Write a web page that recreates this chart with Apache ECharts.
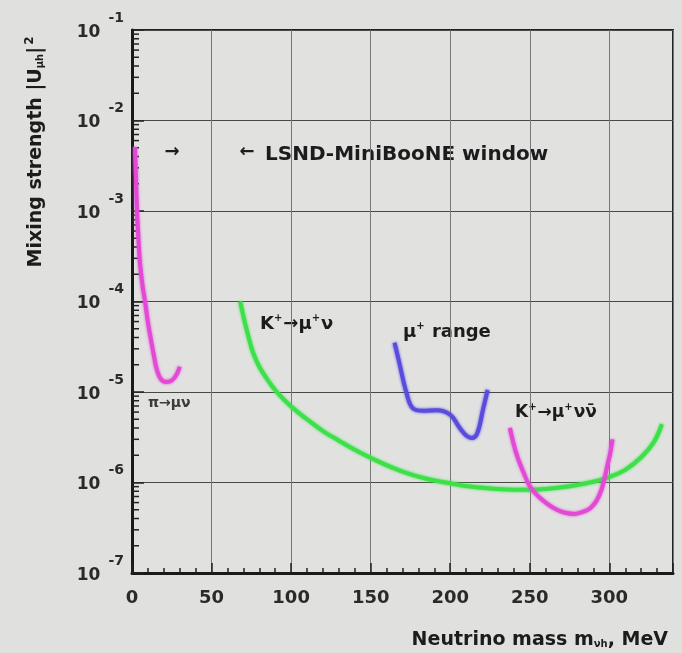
<!DOCTYPE html>
<html>
<head>
<meta charset="utf-8">
<script src="https://cdn.jsdelivr.net/npm/echarts@6/dist/echarts.min.js"></script>
<style>
  html, body { margin: 0; padding: 0; background: #e0e1df; }
  #chart-container { width: 682px; height: 653px; }
</style>
</head>
<body>
<div id="chart-container"></div>
<script>
// Curve data (mass in MeV, mixing |U|^2)
const pionMass = [1.9, 2.5, 3.1, 4.1, 5, 6.6, 8.2, 10, 12, 13.8, 15.7, 18.2, 21.4, 24.5, 27.6, 30];
const pionMix = [5.1e-3, 2.2e-3, 1.02e-3, 4.8e-4, 2.7e-4, 1.5e-4, 1.0e-4, 5.9e-5, 3.7e-5, 2.5e-5, 1.74e-5, 1.38e-5, 1.29e-5, 1.32e-5, 1.51e-5, 1.9e-5];

const kmunuMass = [68, 70.5, 73, 76, 80, 85, 91, 100, 110, 120, 130, 140, 155, 170, 185, 200, 215, 230, 245, 260, 275, 290, 300, 310, 320, 328, 333];
const kmunuMix = [1.0e-4, 6.3e-5, 4.2e-5, 2.75e-5, 1.9e-5, 1.38e-5, 1.0e-5, 6.9e-6, 5.0e-6, 3.7e-6, 2.9e-6, 2.3e-6, 1.7e-6, 1.32e-6, 1.1e-6,
  9.8e-7, 8.9e-7, 8.5e-7, 8.3e-7, 8.5e-7, 9.1e-7, 1.02e-6, 1.15e-6, 1.38e-6, 1.9e-6, 2.8e-6, 4.4e-6];

const rangeMass = [165, 168, 172.5, 176.5, 183, 191.5, 200, 206, 210, 213.5, 217, 220.5, 223.5];
const rangeMix = [3.5e-5, 2.1e-5, 9.8e-6, 6.6e-6, 6.2e-6, 6.3e-6, 5.6e-6, 4.0e-6, 3.3e-6, 3.1e-6, 3.5e-6, 6.3e-6, 1.05e-5];

const knunuMass = [237.5, 241.5, 246, 250, 255, 261, 267, 273, 278, 283, 288, 292, 295, 297, 299, 300.5, 302];
const knunuMix = [4.0e-6, 2.1e-6, 1.3e-6, 9.1e-7, 7.1e-7, 5.8e-7, 5.0e-7, 4.6e-7, 4.5e-7, 4.7e-7, 5.2e-7, 6.3e-7, 8.3e-7, 1.12e-6, 1.6e-6, 2.1e-6, 3.0e-6];

// Tick labels
const xTickLabels = ['0', '50', '100', '150', '200', '250', '300'];
const yTickExponents = ['-7', '-6', '-5', '-4', '-3', '-2', '-1'];

const zip = (xs, ys) => xs.map((x, i) => [x, ys[i]]);

// log-spaced minor ticks on the y axis (2..9 x 10^k)
const yMinorTicks = [];
for (let e = -7; e < -1; e++) {
  for (let m = 2; m <= 9; m++) yMinorTicks.push([0, m * Math.pow(10, e)]);
}

const chartContainer = document.getElementById('chart-container');
const myChart = echarts.init(chartContainer);

const FONT = 'DejaVu Sans';
const INK = '#1c1c1c';

function curve(name, data, color) {
  return {
    name: name,
    type: 'line',
    data: data,
    smooth: 0.4,
    showSymbol: false,
    symbol: 'none',
    lineStyle: { color: color, width: 4, shadowColor: color, shadowBlur: 3 },
    z: 5
  };
}

const option = {
  backgroundColor: '#e0e1df',
  animation: false,
  grid: {
    left: 132, right: 9, top: 30, bottom: 80,
    show: true,
    borderColor: '#222',
    borderWidth: 2,
    backgroundColor: '#e1e2e0'
  },
  xAxis: {
    type: 'value',
    min: 0,
    max: 340,
    interval: 50,
    axisLine: { show: true, onZero: false, lineStyle: { color: '#1a1a1a', width: 3 } },
    axisTick: { show: true, inside: true, length: 10, lineStyle: { color: '#222', width: 1.5 } },
    minorTick: { show: true, splitNumber: 5, length: 5, lineStyle: { color: '#222', width: 1.5 } },
    splitLine: { show: true, lineStyle: { color: '#777', width: 1 } },
    axisLabel: {
      margin: 16,
      showMaxLabel: false,
      fontFamily: FONT,
      fontWeight: 'bold',
      fontSize: 18,
      color: '#2a2a2a',
      formatter: function (v) {
        const s = String(v);
        return xTickLabels.indexOf(s) >= 0 ? s : '';
      }
    }
  },
  yAxis: {
    type: 'log',
    logBase: 10,
    min: 1e-7,
    max: 1e-1,
    interval: 1,
    axisLine: { show: true, onZero: false, lineStyle: { color: '#1a1a1a', width: 3 } },
    axisTick: { show: true, inside: true, length: 12, lineStyle: { color: '#222', width: 1.5 } },
    splitLine: { show: true, lineStyle: { color: '#484848', width: 1.2 } },
    axisLabel: {
      margin: 8,
      padding: [0, 0, 8, 0],
      formatter: function (v, i) {
        return '{b|10}{s|' + yTickExponents[i] + '}';
      },
      rich: {
        b: { fontFamily: FONT, fontWeight: 'bold', fontSize: 17, color: '#2a2a2a', verticalAlign: 'bottom' },
        s: { fontFamily: FONT, fontWeight: 'bold', fontSize: 14, color: '#2a2a2a', verticalAlign: 'bottom', padding: [0, 0, 16, 8] }
      }
    }
  },
  graphic: [
    {
      type: 'text', x: 36, y: 152, rotation: Math.PI / 2,
      style: {
        text: 'Mixing strength |U{sub|μh}|{sup|2}',
        fontFamily: FONT, fontWeight: 'bold', fontSize: 19, fill: INK,
        align: 'center', verticalAlign: 'middle',
        rich: {
          sub: { fontFamily: FONT, fontWeight: 'bold', fontSize: 10, fill: INK, padding: [8, 0, 0, 0] },
          sup: { fontFamily: FONT, fontWeight: 'bold', fontSize: 12, fill: INK, padding: [0, 0, 12, 2] }
        }
      }
    },
    {
      type: 'text', x: 668, y: 640,
      style: {
        text: 'Neutrino mass m{sub|νh}, MeV',
        fontFamily: FONT, fontWeight: 'bold', fontSize: 19, fill: INK,
        align: 'right', verticalAlign: 'middle',
        rich: {
          sub: { fontFamily: FONT, fontWeight: 'bold', fontSize: 10, fill: INK, padding: [9, 0, 0, 0] }
        }
      }
    },
    {
      type: 'text', x: 172, y: 152,
      style: { text: '→', fontFamily: FONT, fontWeight: 'bold', fontSize: 18, fill: INK, align: 'center', verticalAlign: 'middle' }
    },
    {
      type: 'text', x: 247, y: 152,
      style: { text: '←', fontFamily: FONT, fontWeight: 'bold', fontSize: 18, fill: INK, align: 'center', verticalAlign: 'middle' }
    },
    {
      type: 'text', x: 265, y: 155,
      style: { text: 'LSND-MiniBooNE window', fontFamily: FONT, fontWeight: 'bold', fontSize: 20, fill: INK, align: 'left', verticalAlign: 'middle' }
    },
    {
      type: 'text', x: 260, y: 324,
      style: {
        text: 'K{sup|+}→μ{sup|+}ν',
        fontFamily: FONT, fontWeight: 'bold', fontSize: 18, fill: INK, align: 'left', verticalAlign: 'middle',
        rich: { sup: { fontFamily: FONT, fontWeight: 'bold', fontSize: 10, fill: INK, padding: [0, 1, 12, 0] } }
      }
    },
    {
      type: 'text', x: 403, y: 332,
      style: {
        text: 'μ{sup|+} range',
        fontFamily: FONT, fontWeight: 'bold', fontSize: 18, fill: INK, align: 'left', verticalAlign: 'middle',
        rich: { sup: { fontFamily: FONT, fontWeight: 'bold', fontSize: 10, fill: INK, padding: [0, 1, 12, 0] } }
      }
    },
    {
      type: 'text', x: 515, y: 413,
      style: {
        text: 'K{sup|+}→μ{sup|+}νν̄',
        fontFamily: FONT, fontWeight: 'bold', fontSize: 17, fill: INK, align: 'left', verticalAlign: 'middle',
        rich: { sup: { fontFamily: FONT, fontWeight: 'bold', fontSize: 10, fill: INK, padding: [0, 1, 12, 0] } }
      }
    },
    {
      type: 'text', x: 148, y: 403,
      style: { text: 'π→μν', fontFamily: FONT, fontWeight: 'bold', fontSize: 14, fill: '#3a3a3a', align: 'left', verticalAlign: 'middle' }
    }
  ],
  series: [
    {
      name: 'minor ticks',
      type: 'custom',
      silent: true,
      data: yMinorTicks,
      renderItem: function (params, api) {
        const p = api.coord([api.value(0), api.value(1)]);
        return {
          type: 'line',
          shape: { x1: p[0], y1: p[1], x2: p[0] + 7, y2: p[1] },
          style: { stroke: '#222', lineWidth: 1.5 }
        };
      },
      z: 3
    },
    curve('pi -> mu nu', zip(pionMass, pionMix), '#e24ad6'),
    curve('K+ -> mu+ nu', zip(kmunuMass, kmunuMix), '#3ee049'),
    curve('mu+ range', zip(rangeMass, rangeMix), '#5a4cdc'),
    curve('K+ -> mu+ nu nubar', zip(knunuMass, knunuMix), '#e24ad6')
  ]
};

myChart.setOption(option);
</script>
</body>
</html>
